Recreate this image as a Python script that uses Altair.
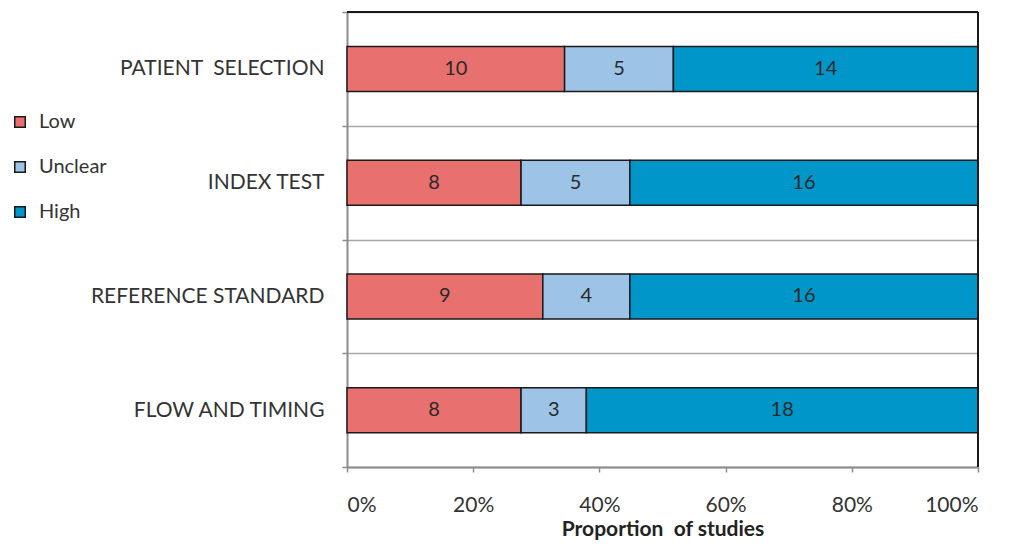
import altair as alt
import pandas as pd

domains = ["PATIENT\u00a0 SELECTION", "INDEX TEST", "REFERENCE STANDARD", "FLOW AND TIMING"]
levels = ["Low", "Unclear", "High"]
low = [10, 8, 9, 8]
unclear = [5, 5, 4, 3]
high = [14, 16, 16, 18]
colors = ["#E8706E", "#9DC3E6", "#0096C9"]

rows = []
for i, d in enumerate(domains):
    for j, (lev, vals) in enumerate(zip(levels, [low, unclear, high])):
        rows.append({"domain": d, "level": lev, "order": j, "count": vals[i]})
df = pd.DataFrame(rows)

FONT = "Lato"
TXT = "#333333"

y_enc = alt.Y(
    "domain:N",
    sort=domains,
    title=None,
    scale=alt.Scale(paddingInner=0, paddingOuter=0),
    axis=alt.Axis(
        tickBand="extent",
        grid=True,
        gridColor="#a6a6a6",
        gridWidth=1.5,
        domainColor="#8c8c8c",
        domainWidth=2,
        tickColor="#8c8c8c",
        tickWidth=1.5,
        tickSize=5,
        labelFont=FONT,
        labelFontSize=21,
        labelColor=TXT,
        labelPadding=18,
        labelLimit=400,
    ),
)

bars = alt.Chart(df).mark_bar(size=45, stroke="#1a1a1a", strokeWidth=1.5).encode(
    x=alt.X(
        "count:Q",
        stack="normalize",
        title="Proportion\u00a0 of studies",
        scale=alt.Scale(domain=[0, 1]),
        axis=alt.Axis(
            format=".0%",
            values=[0, 0.2, 0.4, 0.6, 0.8, 1.0],
            grid=False,
            domainColor="#8c8c8c",
            domainWidth=2,
            tickColor="#8c8c8c",
            tickWidth=1.5,
            tickSize=5,
            labelFont=FONT,
            labelFontSize=21,
            labelColor=TXT,
            labelPadding=22,
            titleFont=FONT,
            titleFontSize=21,
            titleFontWeight="bold",
            titleColor="#222222",
            titlePadding=3,
        ),
    ),
    y=y_enc,
    color=alt.Color(
        "level:N",
        scale=alt.Scale(domain=levels, range=colors),
        legend=alt.Legend(
            title=None,
            orient="none",
            legendX=-337,
            legendY=100,
            symbolType="square",
            symbolSize=110,
            symbolStrokeColor="#1a1a1a",
            symbolStrokeWidth=1.5,
            symbolOpacity=1,
            labelFont=FONT,
            labelFontSize=20,
            labelColor=TXT,
            rowPadding=25,
            labelOffset=9,
        ),
    ),
    order=alt.Order("order:Q"),
)

labels = (
    alt.Chart(df)
    .transform_joinaggregate(total="sum(count)", groupby=["domain"])
    .transform_window(cum="sum(count)", sort=[alt.SortField("order")], groupby=["domain"])
    .transform_calculate(mid="(datum.cum - datum.count / 2) / datum.total")
    .mark_text(font=FONT, fontSize=20, color="#2a2a2a")
    .encode(
        x=alt.X("mid:Q", scale=alt.Scale(domain=[0, 1])),
        y=alt.Y("domain:N", sort=domains),
        text="count:Q",
    )
)

frame_right = alt.Chart(df).mark_rule(color="#1a1a1a", strokeWidth=2).encode(
    x=alt.datum(1)
)
frame_top = alt.Chart(df).mark_rule(color="#1a1a1a", strokeWidth=2).encode(
    y=alt.value(0)
)

chart = (
    alt.layer(bars, labels, frame_right, frame_top)
    .properties(
        width=631,
        height=455,
        autosize=alt.AutoSizeParams(type="none"),
        padding={"left": 339, "top": 4, "right": 20, "bottom": 77},
    )
    .configure_view(stroke=None)
    .configure(background="white")
)

chart.save("out.html", embed_options={"renderer": "svg", "actions": False})
